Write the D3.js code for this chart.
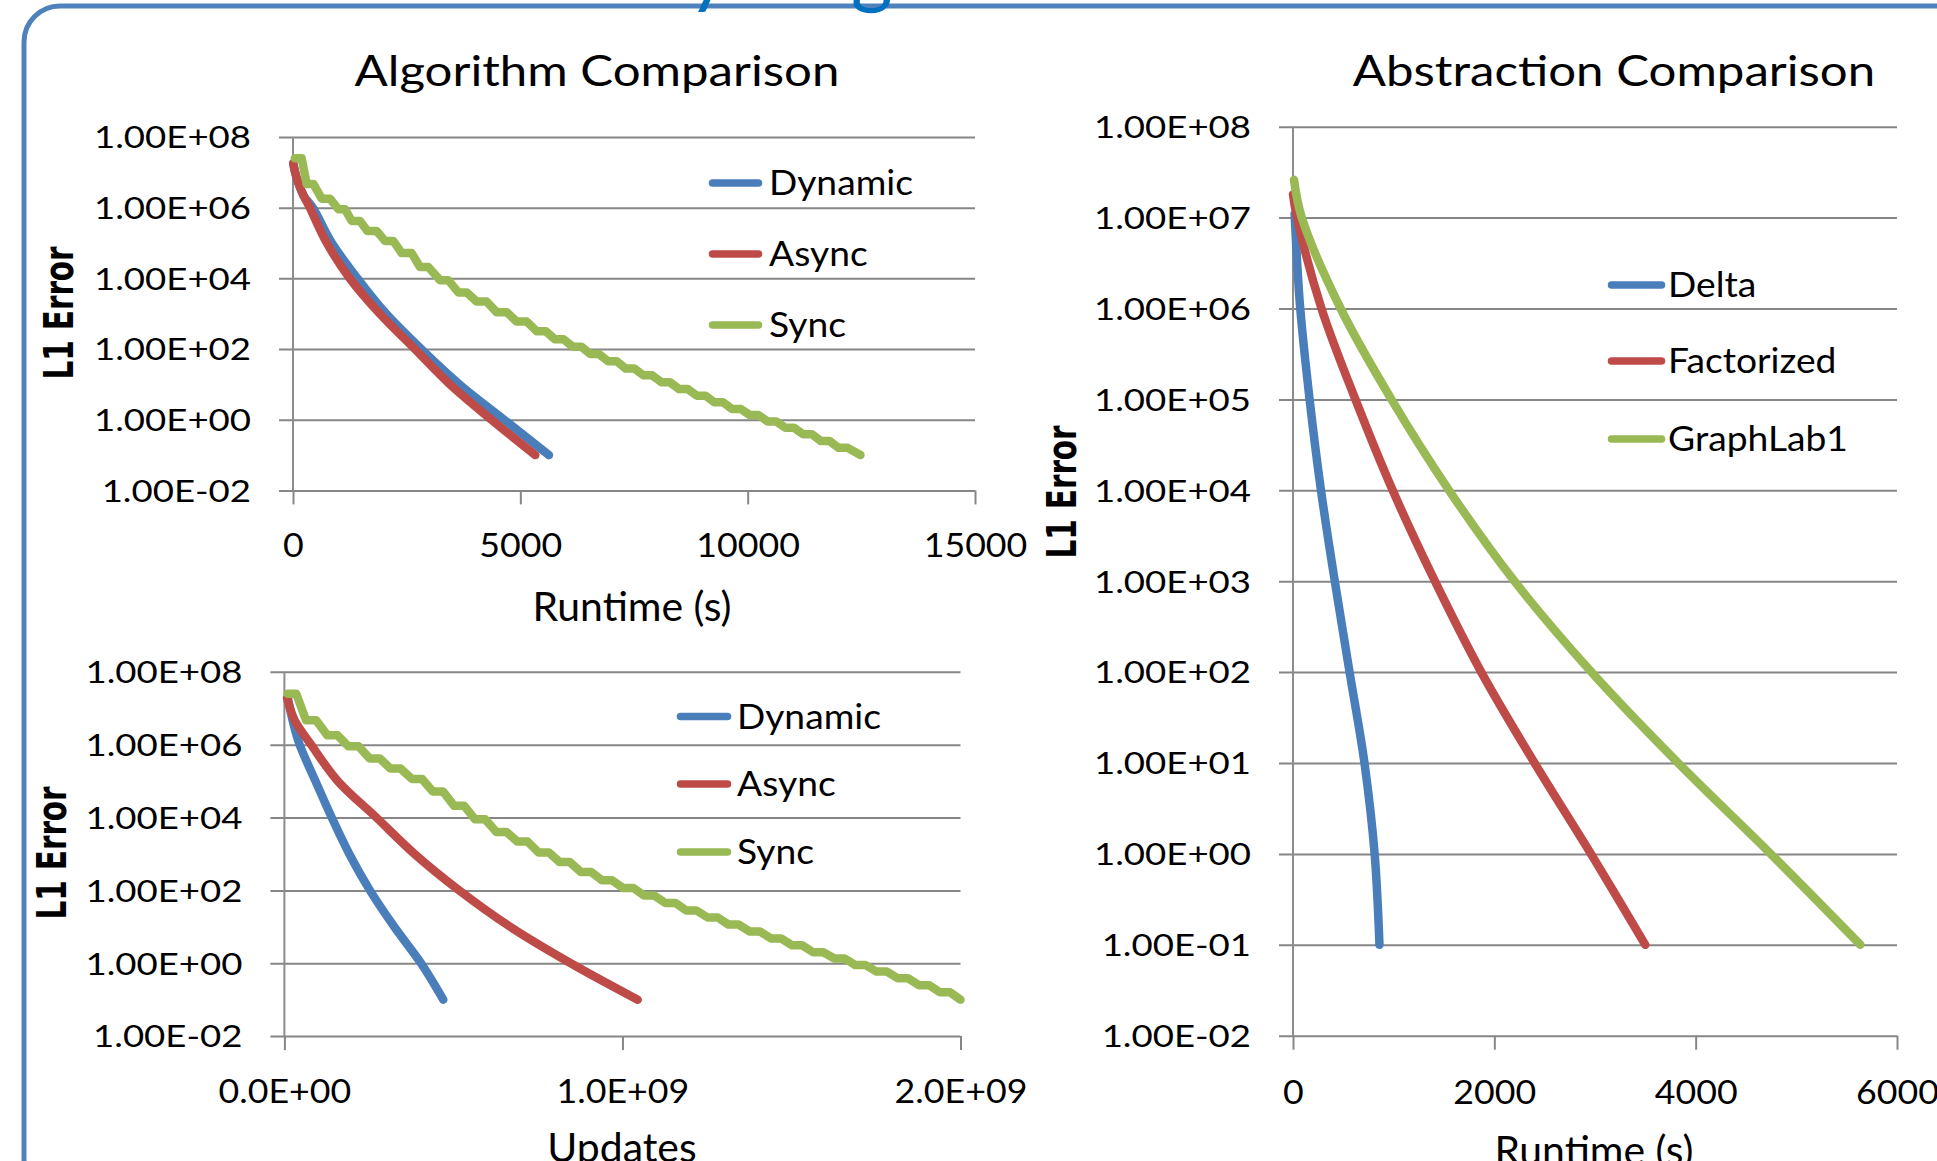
<!DOCTYPE html>
<html lang="en">
<head>
<meta charset="UTF-8">
<title>Algorithm and Abstraction Comparison</title>
<script src="https://d3js.org/d3.v7.min.js"></script>
<style>
  html, body { margin: 0; padding: 0; background: #fff; }
  svg { display: block; }
  text { font-family: Lato, "Open Sans", sans-serif; fill: #000; }
  .grid line { stroke: #868686; stroke-width: 2; }
  .grid path { display: none; }
  .series { fill: none; stroke-width: 8.5; stroke-linecap: round; stroke-linejoin: round; }
  .ytitle { font-family: "DejaVu Sans", sans-serif; font-weight: bold; }
</style>
</head>
<body>
<svg width="1937" height="1161"></svg>
<script>
// ---------- data ----------
const errTicksEven = [1e-2, 1e0, 1e2, 1e4, 1e6, 1e8];
const errTicksAll = [1e-2, 1e-1, 1e0, 1e1, 1e2, 1e3, 1e4, 1e5, 1e6, 1e7, 1e8];
const runtimeTicksAlg = [0, 5000, 10000, 15000];
const updateTicks = [0, 1, 2];            // billions of updates
const runtimeTicksAbs = [0, 2000, 4000, 6000];

const algNames = ["Dynamic", "Async", "Sync"];
const absNames = ["Delta", "Factorized", "GraphLab1"];

// Algorithm comparison: runtime (s) vs L1 error
const dynamicTime = [5, 80, 230, 435, 856, 1417, 2048, 2820, 3662, 4644, 5630];
const dynamicErr  = [1.8e7, 7.0e6, 2.2e6, 1e6, 1e5, 1e4, 1e3, 1e2, 1e1, 1, 0.1];
const asyncTime = [5, 80, 227, 370, 744, 1249, 1908, 2680, 3452, 4364, 5330];
const asyncErr  = [1.8e7, 7.0e6, 2.3e6, 1e6, 1e5, 1e4, 1e3, 1e2, 1e1, 1, 0.1];

// Sync: one level per iteration (flat stretch from start to end)
const syncErr = [2.5e7, 4.7e6, 1.8e6, 9.1e5, 4.2e5, 2.2e5, 1.15e5, 5.2e4, 2.1e4, 8.9e3,
  4.0e3, 2.2e3, 1.1e3, 600, 320, 190, 117, 72, 45, 28, 18, 11.5, 7.4, 4.8, 3.1, 2.0,
  1.35, 0.89, 0.59, 0.39, 0.25, 0.16, 0.1];
const syncTimeStart = [40, 300, 631, 997, 1291, 1635, 2023, 2390, 2793, 3233, 3636, 4040,
  4480, 4920, 5360, 5760, 6150, 6540, 6930, 7320, 7710, 8100, 8490, 8880, 9270, 9660,
  10050, 10440, 10830, 11220, 11610, 12000, 12480];
const syncTimeEnd = [190, 447, 814, 1144, 1474, 1840, 2206, 2610, 2976, 3416, 3820, 4260,
  4700, 5140, 5560, 5950, 6340, 6730, 7120, 7510, 7900, 8290, 8680, 9070, 9460, 9850,
  10240, 10630, 11020, 11410, 11800, 12200, 12480];

// Algorithm comparison: updates (billions) vs L1 error
const dynamicUpd = [0.011, 0.026, 0.045, 0.092, 0.14, 0.192, 0.253, 0.325, 0.404, 0.47];
const dynamicUpdErr = [1.75e7, 4e6, 1e6, 1e5, 1e4, 1e3, 1e2, 1e1, 1, 0.1];
const asyncUpd = [0.008, 0.030, 0.079, 0.158, 0.272, 0.385, 0.517, 0.668, 0.847, 1.045];
const asyncUpdErr = [1.9e7, 4.7e6, 1e6, 1e5, 1e4, 1e3, 1e2, 1e1, 1, 0.1];
const syncUpdStart = [0.010, 0.064, 0.127, 0.189, 0.252, 0.314, 0.377, 0.439, 0.502, 0.564,
  0.627, 0.689, 0.752, 0.814, 0.877, 0.939, 1.002, 1.064, 1.127, 1.189, 1.252, 1.314,
  1.377, 1.439, 1.502, 1.564, 1.627, 1.689, 1.752, 1.814, 1.877, 1.939, 2.000];
const syncUpdEnd = [0.035, 0.094, 0.157, 0.219, 0.282, 0.344, 0.407, 0.469, 0.532, 0.594,
  0.657, 0.719, 0.782, 0.844, 0.907, 0.969, 1.032, 1.094, 1.157, 1.219, 1.282, 1.344,
  1.407, 1.469, 1.532, 1.594, 1.657, 1.719, 1.782, 1.844, 1.907, 1.969, 2.000];

// Abstraction comparison: runtime (s) vs L1 error
const deltaTime = [16, 40, 72, 165, 278, 415, 562, 710, 811, 859];
const deltaErr  = [1.1e7, 3.4e6, 1e6, 1e5, 1e4, 1e3, 1e2, 1e1, 1, 0.1];
const factTime = [0, 40, 283, 620, 990, 1410, 1870, 2400, 2960, 3500];
const factErr  = [1.8e7, 1e7, 1e6, 1e5, 1e4, 1e3, 1e2, 1e1, 1, 0.1];
const glTime = [10, 87, 473, 978, 1550, 2200, 2965, 3826, 4746, 5636];
const glErr  = [2.6e7, 1e7, 1e6, 1e5, 1e4, 1e3, 1e2, 1e1, 1, 0.1];

const colors = ["#4A7EBB", "#BE4B48", "#98B954"];

// ---------- helpers ----------
function sci(digits) {
  return v => {
    const [m, e] = v.toExponential(digits).split("e");
    const sign = e[0] === "-" ? "-" : "+";
    return m + "E" + sign + e.replace(/[+-]/, "").padStart(2, "0");
  };
}

// staircase vertices: flat from start to end, then a drop to the next level
function stairs(start, end, err) {
  const pts = [];
  err.forEach((e, i) => {
    pts.push([start[i], e]);
    if (end[i] !== start[i]) pts.push([end[i], e]);
  });
  return pts;
}

// squeeze / stretch a group of labels horizontally so that a sample label gets a target width
function fitWidth(sel, sample, target) {
  const ref = sel.filter(function() { return this.textContent === sample; }).node();
  const k = target / ref.getComputedTextLength();
  sel.each(function() {
    const t = d3.select(this);
    const x = +(t.attr("x") || 0);
    t.attr("x", x / k).attr("transform", `scale(${k},1)`);
  });
}

const svg = d3.select("svg");

// slide frame and the clipped slide title above it
svg.append("rect")
  .attr("x", 24).attr("y", 6).attr("width", 3000).attr("height", 1189).attr("rx", 36)
  .attr("fill", "none").attr("stroke", "#4F81BD").attr("stroke-width", 5);
svg.append("text").attr("x", 688).attr("y", -2).style("font-size", "80px").style("fill", "#0070C0").text("y");
svg.append("text").attr("x", 851).attr("y", -2).style("font-size", "80px").style("fill", "#0070C0").text("g");

function panel(o) {
  const x = d3.scaleLinear().domain(o.xDomain).range([o.x0, o.x1]);
  const y = d3.scaleLog().domain([1e-2, 1e8]).range([o.yBot, o.yTop]);
  const g = svg.append("g");

  // horizontal gridlines + value labels
  const ya = g.append("g").attr("class", "grid")
    .attr("transform", `translate(${o.x0 - 14},0)`)
    .call(d3.axisLeft(y).tickValues(o.yTicks).tickFormat(sci(2))
      .tickSize(-(o.x1 - o.x0 + 14)).tickPadding(28));
  ya.selectAll("text").attr("class", "ylab").attr("dy", "0.36em").style("font-size", "30px");

  // x ticks below the plot
  const xa = g.append("g").attr("class", "grid")
    .attr("transform", `translate(0,${o.yBot})`)
    .call(d3.axisBottom(x).tickValues(o.xTicks).tickFormat(o.xFormat).tickSize(14));
  xa.selectAll("text").attr("class", "xlab").attr("y", o.xLabelOffset).attr("dy", "0.36em")
    .style("font-size", "33px");

  // vertical axis
  g.append("line").attr("x1", x(0)).attr("x2", x(0)).attr("y1", o.yTop).attr("y2", o.yBot)
    .attr("stroke", "#8c8c8c").attr("stroke-width", 2);

  // series
  o.series.forEach((s, i) => {
    const line = d3.line().x(d => x(d[0])).y(d => y(d[1]))
      .curve(s.curve || d3.curveCatmullRom.alpha(0.5));
    g.append("path").attr("class", "series").attr("stroke", colors[i]).attr("d", line(s.points));
  });

  // legend
  o.names.forEach((name, i) => {
    const ly = o.legend.ys[i];
    g.append("line").attr("x1", o.legend.x0 + 3.5).attr("x2", o.legend.x1 - 3.5)
      .attr("y1", ly).attr("y2", ly).attr("stroke", colors[i])
      .attr("stroke-width", 7.5).attr("stroke-linecap", "round");
    g.append("text").attr("class", "leg").attr("x", o.legend.tx).attr("y", ly)
      .attr("dy", "0.36em").style("font-size", "34px").text(name);
  });

  // titles
  if (o.title) {
    g.append("text").attr("class", "ttl").attr("x", o.title[1]).attr("y", o.title[2])
      .attr("text-anchor", "middle").style("font-size", "43px").text(o.title[0]);
  }
  g.append("text").attr("class", "xttl").attr("x", o.xTitle[1]).attr("y", o.xTitle[2])
    .attr("text-anchor", "middle").style("font-size", "40px").text(o.xTitle[0]);
  g.append("g").attr("transform", `translate(${o.yTitle[0]},${o.yTitle[1]}) rotate(-90)`)
    .append("text").attr("class", "ytitle").attr("y", 15).attr("text-anchor", "middle")
    .style("font-size", "41px").text("L1 Error");
}

panel({
  xDomain: [0, 15000], x0: 293, x1: 975, yTop: 137, yBot: 490.4,
  yTicks: errTicksEven, xTicks: runtimeTicksAlg, xFormat: d3.format("d"), xLabelOffset: 55,
  names: algNames,
  series: [
    { points: d3.zip(dynamicTime, dynamicErr) },
    { points: d3.zip(asyncTime, asyncErr) },
    { points: stairs(syncTimeStart, syncTimeEnd, syncErr), curve: d3.curveLinear }
  ],
  legend: { x0: 709, x1: 762, tx: 769, ys: [183, 254, 325] },
  title: ["Algorithm Comparison", 597, 86],
  xTitle: ["Runtime (s)", 632, 621],
  yTitle: [58, 313]
});

panel({
  xDomain: [0, 2], x0: 284.4, x1: 960.5, yTop: 671.8, yBot: 1036.1,
  yTicks: errTicksEven, xTicks: updateTicks, xFormat: v => sci(1)(v * 1e9), xLabelOffset: 55,
  names: algNames,
  series: [
    { points: d3.zip(dynamicUpd, dynamicUpdErr) },
    { points: d3.zip(asyncUpd, asyncUpdErr) },
    { points: stairs(syncUpdStart, syncUpdEnd, syncErr), curve: d3.curveLinear }
  ],
  legend: { x0: 677, x1: 731, tx: 737, ys: [716.6, 784, 852] },
  xTitle: ["Updates", 622, 1162],
  yTitle: [51, 853]
});

panel({
  xDomain: [0, 6000], x0: 1293, x1: 1897, yTop: 126.7, yBot: 1035.7,
  yTicks: errTicksAll, xTicks: runtimeTicksAbs, xFormat: d3.format("d"), xLabelOffset: 56,
  names: absNames,
  series: [
    { points: d3.zip(deltaTime, deltaErr) },
    { points: d3.zip(factTime, factErr) },
    { points: d3.zip(glTime, glErr) }
  ],
  legend: { x0: 1608, x1: 1665, tx: 1668, ys: [285, 361, 439] },
  title: ["Abstraction Comparison", 1614, 86],
  xTitle: ["Runtime (s)", 1594, 1165],
  yTitle: [1060.6, 492]
});

// match the narrow slide typeface widths
fitWidth(d3.selectAll(".ylab"), "1.00E+08", 157);
fitWidth(d3.selectAll(".xlab"), "5000", 83);
fitWidth(d3.selectAll(".leg"), "Dynamic", 144);
fitWidth(d3.selectAll(".ttl"), "Algorithm Comparison", 485);
fitWidth(d3.selectAll(".xttl"), "Runtime (s)", 199);
fitWidth(d3.selectAll(".ytitle"), "L1 Error", 133);
</script>
</body>
</html>
